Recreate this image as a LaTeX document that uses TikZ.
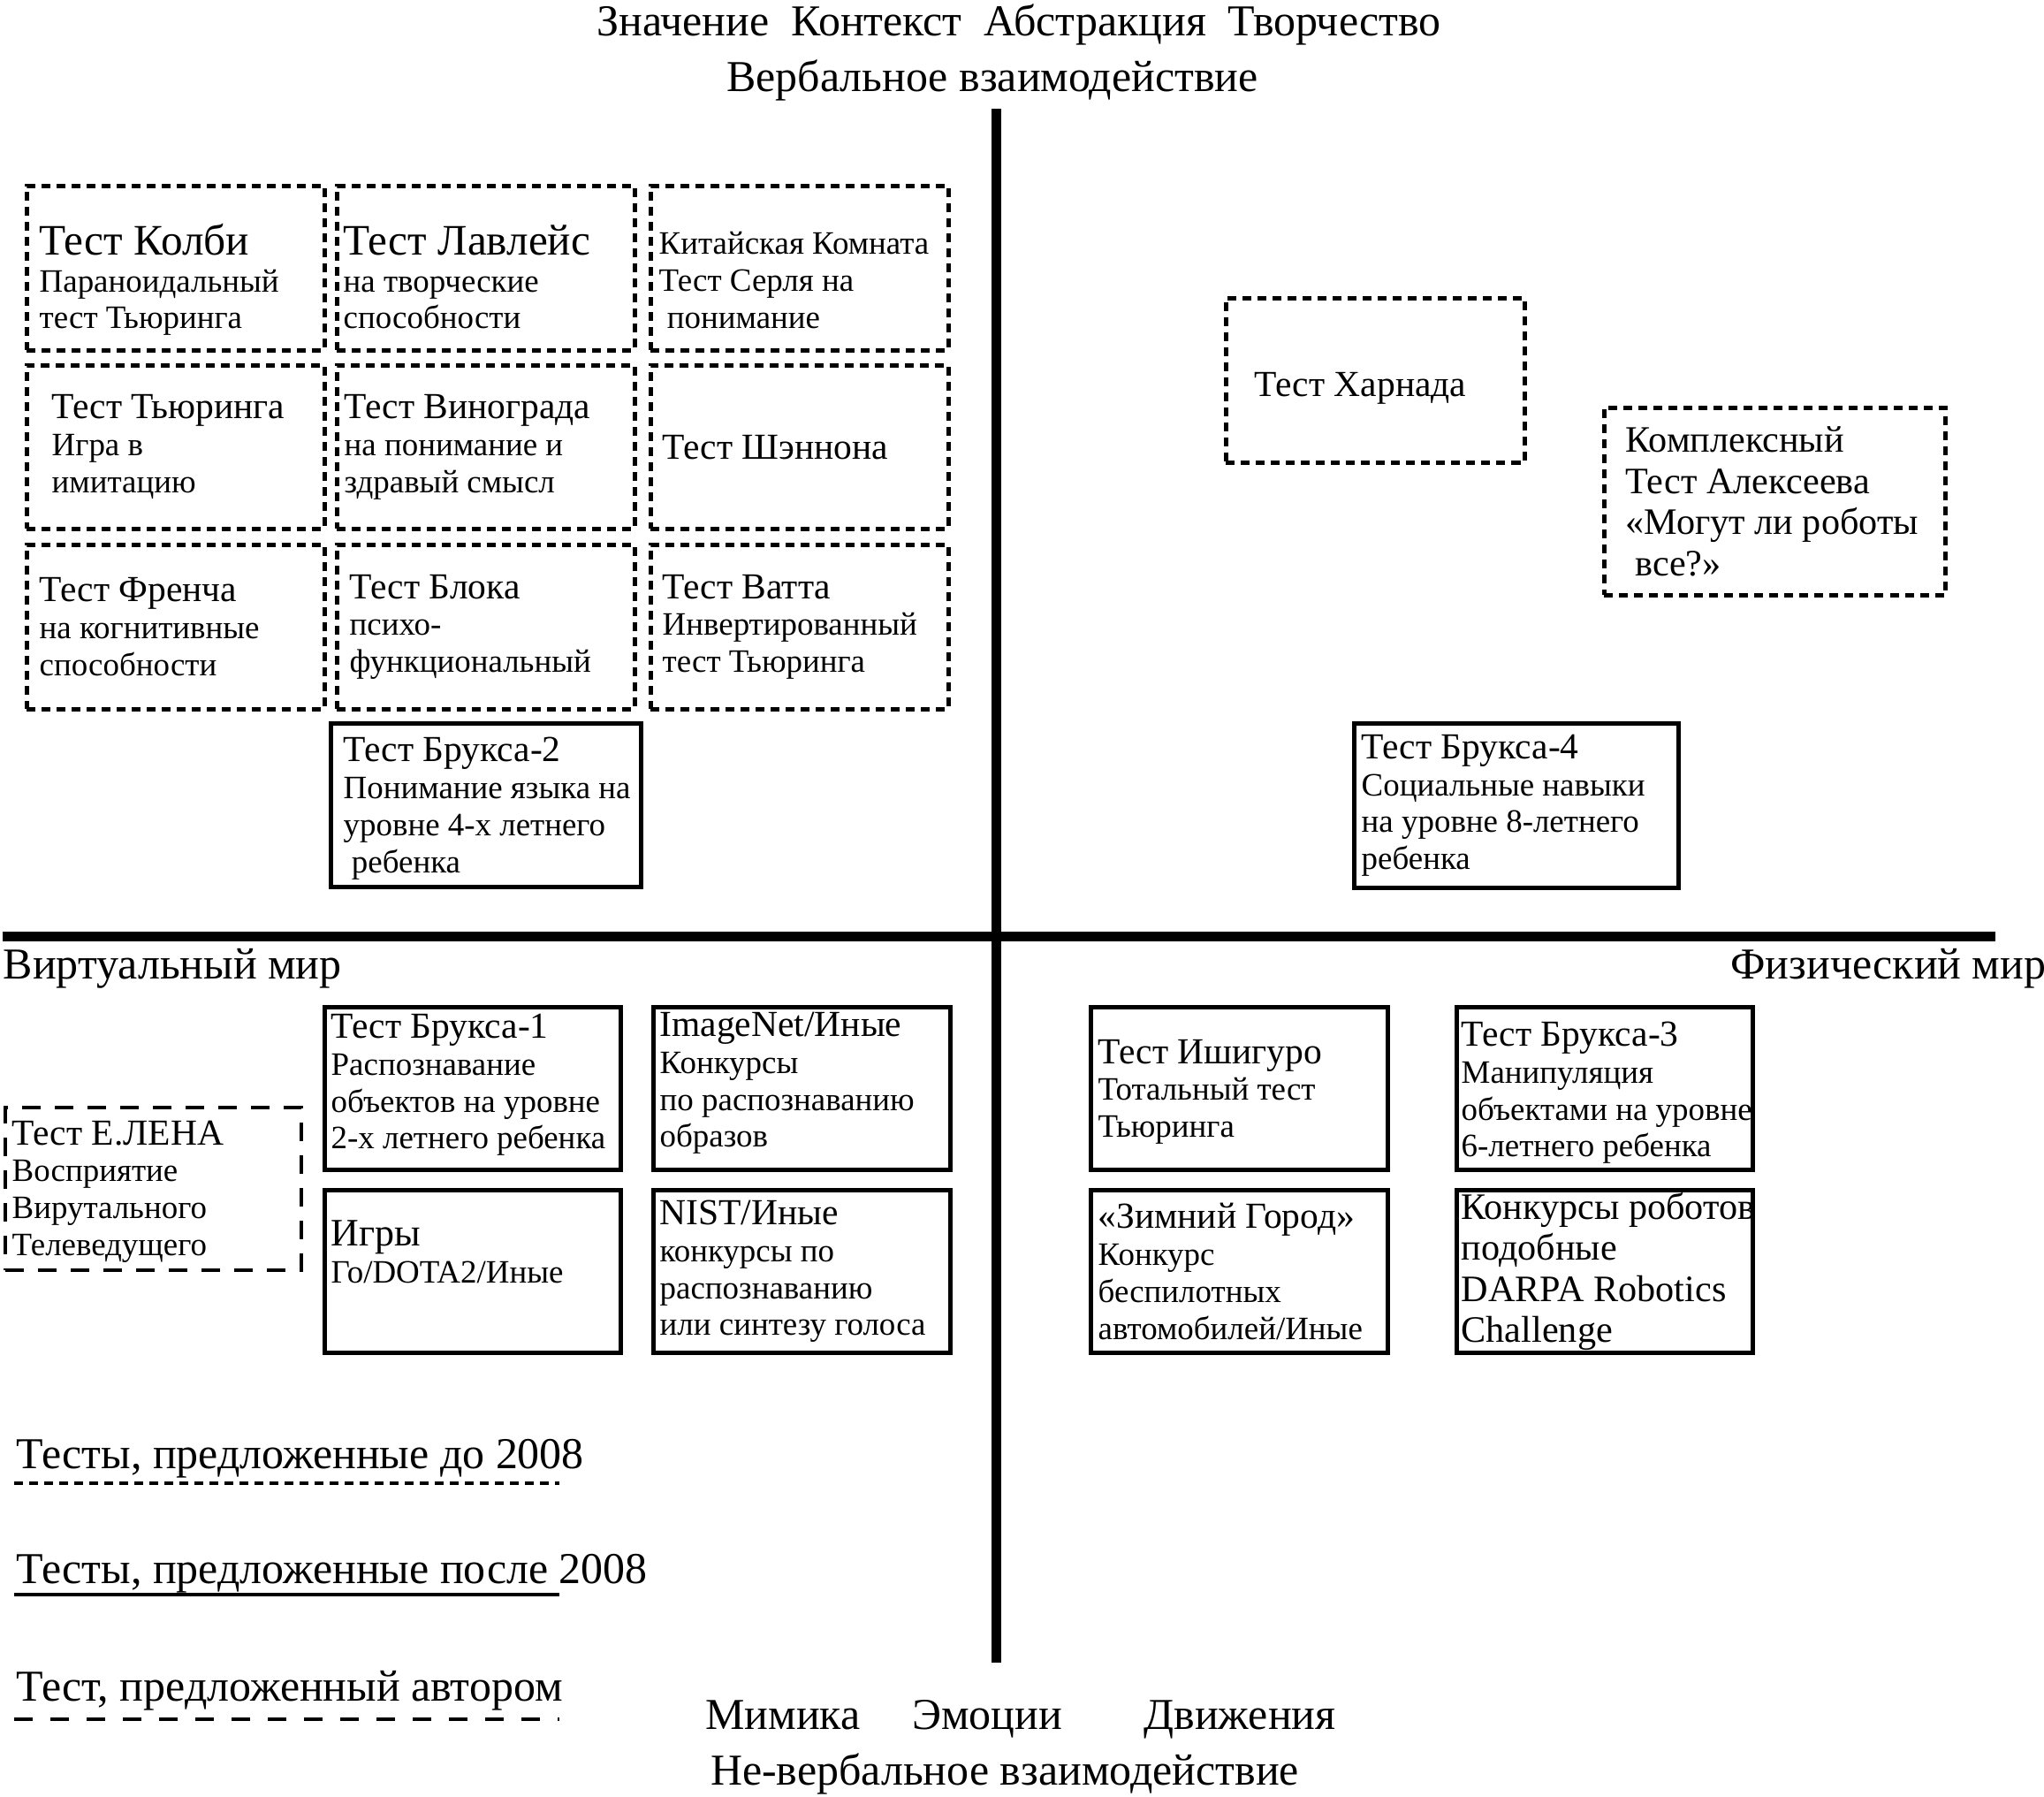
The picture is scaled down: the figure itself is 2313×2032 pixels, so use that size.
\documentclass[tikz,border=0pt]{standalone}
\usepackage{fontspec}
\usetikzlibrary{positioning}
\setmainfont{Liberation Serif}
\newcommand{\boxtitle}[1]{{\fontsize{11.8}{12}\selectfont #1}}
\newcommand{\bigtitle}[1]{{\fontsize{14}{14}\selectfont #1}}
\begin{document}
\begin{tikzpicture}[x=0.01cm,y=-0.01cm,
    axis/.style={line width=0.11cm},
    label/.style={font=\fontsize{14.2}{16}\selectfont,inner sep=0pt},
    txt/.style={align=left,inner sep=0pt,font=\fontsize{10.5}{11.9}\selectfont},
    cell/.style={anchor=north west,inner sep=0pt},
    old/.style={cell,draw,line width=0.045cm,dash pattern=on 0.1cm off 0.07cm},
    new/.style={cell,draw,line width=0.045cm},
    author/.style={cell,draw,line width=0.04cm,dash pattern=on 0.21cm off 0.16cm},
    grid/.style={minimum width=3.37cm,minimum height=1.86cm},
    low/.style={minimum width=3.36cm,minimum height=1.84cm}]
\useasboundingbox (0,0) rectangle (2313,2032);
% axes
\coordinate (vtop) at (1127.5,123);
\coordinate (vbot) at (1127.5,1881);
\coordinate (hleft) at (3,1059.5);
\coordinate (hright) at (2258,1059.5);
\draw[axis] (vtop)--(vbot);
\draw[axis] (hleft)--(hright);
\node[label,anchor=base] (aspects) at (1153,40) {Значение\ \ Контекст\ \ Абстракция\ \ Творчество};
\node[label,anchor=base] (verbal) at (1123,103) {Вербальное взаимодействие};
\node[label,anchor=base west] (virtual) at (3,1107) {Виртуальный мир};
\node[label,anchor=base east] (physical) at (2316,1107) {Физический мир};
\node[label,anchor=base] (mimic) at (886,1956) {Мимика};
\node[label,anchor=base] (emotion) at (1117,1956) {Эмоции};
\node[label,anchor=base] (motion) at (1403,1956) {Движения};
\node[label,anchor=base] (nonverbal) at (1137,2019) {Не-вербальное взаимодействие};
% tests before 2008
\node[old,grid] (colby) at (28,208) {};
\node[txt,right=0.16cm of colby.west,yshift=-0.13cm] (colbytxt) {\bigtitle{Тест Колби}\\Параноидальный\\тест Тьюринга};
\node[old,grid] (lovelace) at (379,208) {};
\node[txt,right=0.09cm of lovelace.west,yshift=-0.1cm] (lovelacetxt) {\bigtitle{Тест Лавлейс}\\на творческие\\способности};
\node[old,grid] (searle) at (734,208) {};
\node[txt,right=0.11cm of searle.west,yshift=-0.14cm] (searletxt) {Китайская Комната\\Тест Серля на\\~понимание};
\node[old,grid,minimum height=1.85cm] (turing) at (28,411) {};
\node[txt,right=0.3cm of turing.west] (turingtxt) {\boxtitle{Тест Тьюринга}\\Игра в\\имитацию};
\node[old,grid,minimum height=1.85cm] (winograd) at (379,411) {};
\node[txt,right=0.1cm of winograd.west] (winogradtxt) {\boxtitle{Тест Винограда}\\на понимание и\\здравый смысл};
\node[old,grid,minimum height=1.85cm] (shannon) at (734,411) {};
\node[txt,right=0.15cm of shannon.west] (shannontxt) {\boxtitle{Тест Шэннона}};
\node[old,grid] (french) at (28,614) {};
\node[txt,right=0.16cm of french.west] (frenchtxt) {\boxtitle{Тест Френча}\\на когнитивные\\способности};
\node[old,grid] (block) at (379,614) {};
\node[txt,right=0.16cm of block.west] (blocktxt) {\boxtitle{Тест Блока}\\психо-\\функциональный};
\node[old,grid] (watt) at (734,614) {};
\node[txt,right=0.15cm of watt.west] (watttxt) {\boxtitle{Тест Ватта}\\Инвертированный\\тест Тьюринга};
\node[old,minimum width=3.38cm,minimum height=1.86cm] (harnad) at (1385,335) {};
\node[txt,right=0.34cm of harnad.west,yshift=-0.09cm] (harnadtxt) {\boxtitle{Тест Харнада}};
% tests after 2008
\node[new,minimum width=3.51cm,minimum height=1.85cm] (brooks2) at (372,816) {};
\node[txt,right=0.16cm of brooks2.west,yshift=-0.04cm] (brooks2txt) {\boxtitle{Тест Брукса-2}\\Понимание языка на\\уровне 4-х летнего\\~ребенка};
\node[new,minimum width=3.67cm,minimum height=1.86cm] (brooks4) at (1530,816) {};
\node[txt,right=0.1cm of brooks4.west] (brooks4txt) {\boxtitle{Тест Брукса-4}\\Социальные навыки\\на уровне 8-летнего\\ребенка};
\node[new,low,minimum width=3.35cm] (brooks1) at (365,1137) {};
\node[txt,right=0.09cm of brooks1.west,yshift=0.04cm] (brooks1txt) {\boxtitle{Тест Брукса-1}\\Распознавание\\объектов на уровне\\2-х летнего ребенка};
\node[new,low] (imagenet) at (737,1137) {};
\node[txt,right=0.09cm of imagenet.west,yshift=0.06cm] (imagenettxt) {\boxtitle{ImageNet/Иные}\\Конкурсы\\по распознаванию\\образов};
\node[new,low,minimum width=3.35cm] (games) at (365,1344) {};
\node[txt,right=0.09cm of games.west,yshift=0.22cm] (gamestxt) {{\fontsize{12.5}{12}\selectfont Игры}\\Го/DOTA2/Иные};
\node[new,low] (nist) at (737,1344) {};
\node[txt,right=0.09cm of nist.west] (nisttxt) {\boxtitle{NIST/Иные}\\конкурсы по\\распознаванию\\или синтезу голоса};
\node[new,low] (ishiguro) at (1232,1137) {};
\node[txt,right=0.1cm of ishiguro.west,yshift=-0.04cm] (ishigurotxt) {\boxtitle{Тест Ишигуро}\\Тотальный тест\\Тьюринга};
\node[new,low,minimum width=3.35cm] (brooks3) at (1646,1137) {};
\node[txt,right=0.07cm of brooks3.west,yshift=-0.05cm] (brooks3txt) {\boxtitle{Тест Брукса-3}\\Манипуляция\\объектами на уровне\\6-летнего ребенка};
\node[new,low] (wintercity) at (1232,1344) {};
\node[txt,right=0.1cm of wintercity.west] (wintercitytxt) {\boxtitle{«Зимний Город»}\\Конкурс\\беспилотных\\автомобилей/Иные};
\node[new,low,minimum width=3.35cm] (darpa) at (1646,1344) {};
\node[txt,right=0.07cm of darpa.west,font=\fontsize{12}{13.2}\selectfont] (darpatxt) {Конкурсы роботов\\подобные\\DARPA Robotics\\Challenge};
% tests of the author
\node[author,minimum width=3.35cm,minimum height=1.84cm] (elena) at (4,1251) {};
\node[txt,right=0.09cm of elena.west,yshift=-0.03cm] (elenatxt) {\boxtitle{Тест Е.ЛЕНА}\\Восприятие\\Вирутального\\Телеведущего};
\node[old,minimum width=3.86cm,minimum height=2.12cm] (alekseev) at (1813,459) {};
\node[txt,right=0.26cm of alekseev.west,font=\fontsize{12}{13.3}\selectfont] (alekseevtxt) {Комплексный\\Тест Алексеева\\«Могут ли роботы\\~все?»};
% legend
\node[label,anchor=base west] (legold) at (18,1661) {Тесты, предложенные до 2008};
\node[label,anchor=base west] (legnew) at (18,1791) {Тесты, предложенные после 2008};
\node[label,anchor=base west] (legauthor) at (18,1924) {Тест, предложенный автором};
\draw[line width=0.035cm,dash pattern=on 0.1cm off 0.07cm] (16,1678)--(633,1678);
\draw[line width=0.035cm] (16,1804)--(633,1804);
\draw[line width=0.04cm,dash pattern=on 0.21cm off 0.2cm] (16,1945)--(633,1945);
\end{tikzpicture}
\end{document}
